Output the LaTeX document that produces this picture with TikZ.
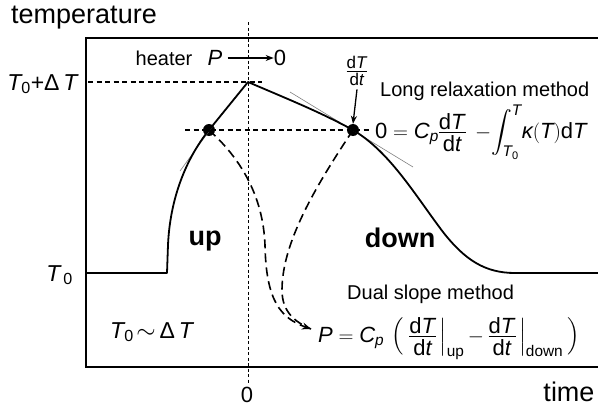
\documentclass[tikz,border=0pt]{standalone}
\usepackage{amsmath}
\usepackage{exscale}
\usepackage{fontspec}
\setmainfont{Liberation Sans}
\usetikzlibrary{arrows.meta}
\newcommand{\iT}{\textit{T}}
\newcommand{\myfrac}[2]{\mathord{\vcenter{\offinterlineskip\halign{\hfil##\hfil\cr\vphantom{dT}#1\cr\noalign{\kern2.2pt\hrule height0.9pt\kern2.2pt}\vphantom{dT}#2\cr}}}}
\newcommand{\dTdt}{\myfrac{d\textit{T}}{d\textit{t}}}
\newcommand{\tallstrut}{\vcenter{\hbox{\rule{0pt}{37pt}}}}
\begin{document}
\begin{tikzpicture}[x=1pt,y=-1pt,
  axl/.style={inner sep=0pt,font=\fontsize{27}{30}\selectfont},
  lab/.style={inner sep=0pt,font=\fontsize{20}{24}\selectfont},
  tlab/.style={inner sep=0pt,font=\fontsize{23}{27}\selectfont},
  eqn/.style={inner sep=0pt,font=\fontsize{22}{26}\selectfont},
  big/.style={inner sep=0pt,font=\fontsize{27}{30}\selectfont\bfseries},
  axisline/.style={line width=1.8pt,line join=miter},
  curve/.style={line width=1.8pt,line join=round},
  vdot/.style={line width=0.8pt,dash pattern=on 3pt off 2.5pt},
  hdash/.style={line width=1.1pt,dash pattern=on 5pt off 3.5pt},
  dcurve/.style={line width=1.6pt,dash pattern=on 9pt off 5pt},
  tang/.style={line width=0.6pt,gray},
  dot/.style={circle,fill=black,inner sep=0pt,minimum size=12pt},
  arr/.style={line width=1.3pt,-{Stealth[length=8pt,width=6pt]}}
]
\useasboundingbox (0,0) rectangle (598,407);
% axes
\coordinate (tr) at (598,38);
\coordinate (tl) at (86,38);
\coordinate (bl) at (86,367);
\coordinate (br) at (598,367);
\draw[axisline] (tr) -- (tl) -- (bl) -- (br);
\node[axl] (ylab) at (84,18) {temperature};
\node[axl] (xlab) at (569,392) {time};
\node[inner sep=0pt,font=\fontsize{22}{26}\selectfont,anchor=base] (zero) at (247,402) {0};
% vertical dotted line
\coordinate (vt) at (248,22);
\coordinate (vb) at (248,383);
\draw[vdot] (vt) -- (vb);
% key points
\coordinate (pk) at (248,82);
\node[dot] (dl) at (209,130) {};
\node[dot] (dr) at (353,130) {};
% horizontal dashed lines
\coordinate (h1a) at (88,82);
\coordinate (h1b) at (262,82);
\coordinate (h2a) at (185,130);
\coordinate (h2b) at (370,130);
\draw[hdash] (h1a) -- (h1b);
\draw[hdash] (h2a) -- (h2b);
% tangent lines
\coordinate (t1a) at (180,171);
\coordinate (t1b) at (215,123);
\coordinate (t2a) at (290,92);
\coordinate (t2b) at (413,167);
\draw[tang] (t1a) -- (t1b);
\draw[tang] (t2a) -- (t2b);
% main curve
\coordinate (c0) at (86,273);
\coordinate (c1) at (167,273);
\coordinate (c2) at (168,245);
\coordinate (c3) at (443,232);
\coordinate (c4) at (515,273);
\coordinate (c5) at (598,273);
\draw[curve] (c0) -- (c1) -- (c2) .. controls (170,200) and (185,160) .. (dl.center) -- (pk)
  .. controls (290,100) and (320,112) .. (dr.center)
  .. controls (390,152) and (415,195) .. (c3)
  .. controls (465,260) and (485,273) .. (c4) -- (c5);
% dashed curves
\coordinate (ae) at (311,329);
\coordinate (m1) at (265,245);
\coordinate (m2) at (282,290);
\draw[dcurve] (dr.center) .. controls (320,180) and (282,240) .. (m2)
  .. controls (282,312) and (295,322) .. (ae);
\draw[dcurve,-{Stealth[length=9pt,width=7pt]}] (dl.center) .. controls (240,158) and (263,195) .. (m1)
  .. controls (266,300) and (280,318) .. (ae);
% labels
\node[lab,anchor=base] (heater) at (164,65) {heater};
\node[eqn,anchor=base] (P0) at (215,65) {\textit{P}};
\node[eqn,anchor=base] (z0) at (280,65) {0};
\coordinate (pa) at ([xshift=5pt,yshift=7pt]P0.base east);
\draw[arr] (pa) -- (z0.west |- pa);
\node[tlab,anchor=base east] (tdt) at (79,90) {$\iT_{\text{0}}$+Δ\,\iT};
\node[tlab,anchor=base east] (t0) at (73,281) {$\iT_{\,\text{0}}$};
\node[tlab,anchor=base west] (tsim) at (110,338) {$\iT_{\text{0}}\!\sim$\,Δ\,\iT};
\node[big,anchor=base] (up) at (205,245) {up};
\node[big,anchor=base] (down) at (400,247) {down};
\node[inner sep=0pt,font=\fontsize{17}{20}\selectfont] (dtl) at (357,71) {$\dTdt$};
\coordinate (da) at ([yshift=-3pt]dtl.south);
\draw[arr] (da) -- (dr.north);
\node[lab,anchor=base west] (lrm) at (380,96) {Long relaxation method};
\node[eqn,anchor=base west] (eq1) at (375,138) {$\medmuskip=3mu
  \text{0} = \textit{C}_{\textit{p}}\dTdt\;-\!\displaystyle\int_{\iT_{\text{0}}}^{\iT}\!\textit{κ}(\iT)\text{d}\iT$};
\node[lab,anchor=base west] (dsm) at (347,299) {Dual slope method};
\node[eqn,anchor=base west] (eq2) at (318,342) {$\medmuskip=3mu
  \textit{P} = \textit{C}_{\textit{p}}\,\left(\tallstrut\right.\left.\dTdt\,\right|_{\text{up}} - \left.\dTdt\,\right|_{\text{down}}\left.\tallstrut\right)$};
\end{tikzpicture}
\end{document}
